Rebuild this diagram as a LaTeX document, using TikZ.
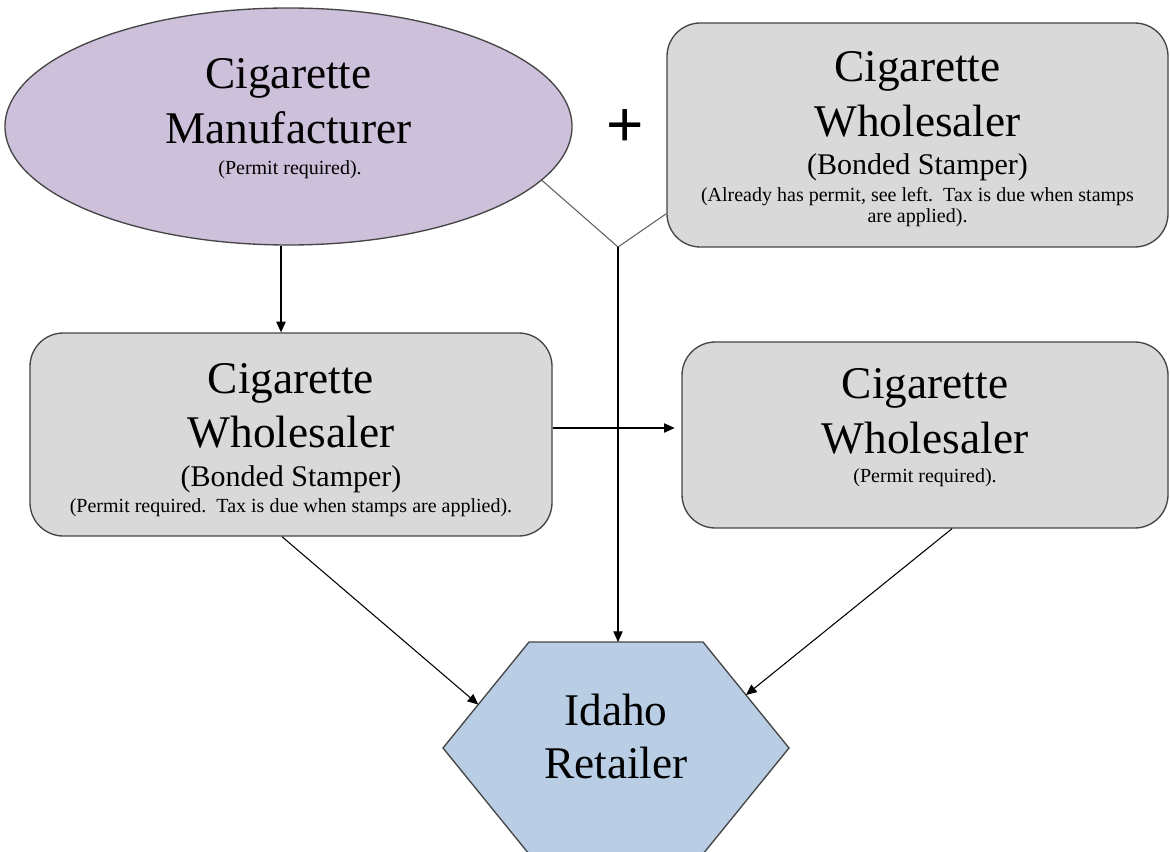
\documentclass[tikz,border=0pt]{standalone}
\usepackage{fontspec}
\setmainfont{Liberation Serif}
\newfontfamily\plusfont{Liberation Sans}
\usetikzlibrary{shapes.geometric,arrows.meta,calc}
\definecolor{purplefill}{HTML}{CCC0DA}
\definecolor{grayfill}{HTML}{D9D9D9}
\definecolor{bluefill}{HTML}{B9CDE5}
\definecolor{outline}{HTML}{454545}
\tikzset{
  shapeline/.style={draw=outline,line width=1pt},
  roundbox/.style={shapeline,fill=grayfill,rectangle,rounded corners=25pt,inner sep=0pt},
  bigtxt/.style={anchor=base,inner sep=0pt,font=\fontsize{34}{40}\selectfont},
  midtxt/.style={anchor=base,inner sep=0pt,font=\fontsize{22.5}{27}\selectfont},
  smalltxt/.style={anchor=base,inner sep=0pt,font=\fontsize{15}{18}\selectfont},
  arr/.style={draw=black,line width=0.8pt,-{Triangle[length=8pt,width=7pt]}},
  joinline/.style={draw=black!62,line width=0.8pt}
}
\begin{document}
\begin{tikzpicture}[x=0.75pt,y=-0.75pt]
\fill[white] (0,0) rectangle (1170,852);
\useasboundingbox (0,0) rectangle (1170,852);
\begin{scope}
\clip (0,0) rectangle (1170,852);
% shapes
\node[shapeline,fill=purplefill,ellipse,inner sep=0pt,minimum width=567*0.75pt,minimum height=237*0.75pt] (man) at (288.5,126.5) {};
\node[roundbox,minimum width=501*0.75pt,minimum height=224*0.75pt] (tr) at (917.5,135) {};
\node[roundbox,minimum width=522*0.75pt,minimum height=203*0.75pt] (ml) at (291,434.5) {};
\node[roundbox,minimum width=486*0.75pt,minimum height=186*0.75pt] (mr) at (925,435) {};
\coordinate (h1) at (529,642);
\coordinate (h2) at (703,642);
\coordinate (h3) at (789,748);
\coordinate (h4) at (703,854);
\coordinate (h5) at (529,854);
\coordinate (h6) at (443,748);
\draw[shapeline,fill=bluefill] (h1) -- (h2) -- (h3) -- (h4) -- (h5) -- (h6) -- cycle;
\end{scope}
% texts
\node[bigtxt] (t1) at (288.5,89) {Cigarette};
\node[bigtxt] (t2) at (288.5,144) {Manufacturer};
\node[smalltxt] (t3) at (290,175) {(Permit required).};
\node[bigtxt] (t4) at (917.5,82) {Cigarette};
\node[bigtxt] (t5) at (917.5,137) {Wholesaler};
\node[midtxt] (t6) at (917.5,175) {(Bonded Stamper)};
\node[smalltxt] (t7) at (917.5,202) {(Already has permit, see left.\ \ Tax is due when stamps};
\node[smalltxt] (t8) at (917.5,223) {are applied).};
\node[bigtxt] (t9) at (291,393) {Cigarette};
\node[bigtxt] (t10) at (291,447) {Wholesaler};
\node[midtxt] (t11) at (291,486) {(Bonded Stamper)};
\node[smalltxt] (t12) at (291,512) {(Permit required.\ \ Tax is due when stamps are applied).};
\node[bigtxt] (t13) at (925,398) {Cigarette};
\node[bigtxt] (t14) at (925,453) {Wholesaler};
\node[smalltxt] (t15) at (925,482) {(Permit required).};
\node[bigtxt] (t16) at (616,725) {Idaho};
\node[bigtxt] (t17) at (616,778) {Retailer};
\node[inner sep=0pt,font=\plusfont\fontsize{48}{48}\selectfont] (plus) at (625,128) {+};
% connectors
\coordinate (j) at (618,247);
\draw[joinline] (man.-12) -- (j) -- ($(tr.south west)+(0,-34)$);
\draw[arr] (j) -- (j |- h1);
\coordinate (a1) at ($(man.south)+(-7.5,0)$);
\draw[arr] (a1) -- (a1 |- ml.north);
\coordinate (a2) at ($(ml.east)+(0,-6.5)$);
\draw[arr,shorten >=5pt] (a2) -- (a2 -| mr.west);
\draw[arr] ($(ml.south)+(-9,0)$) -- ($(h6)!0.41!(h1)$);
\draw[arr] ($(mr.south)+(27,0)$) -- ($(h2)!0.5!(h3)$);
\end{tikzpicture}
\end{document}
